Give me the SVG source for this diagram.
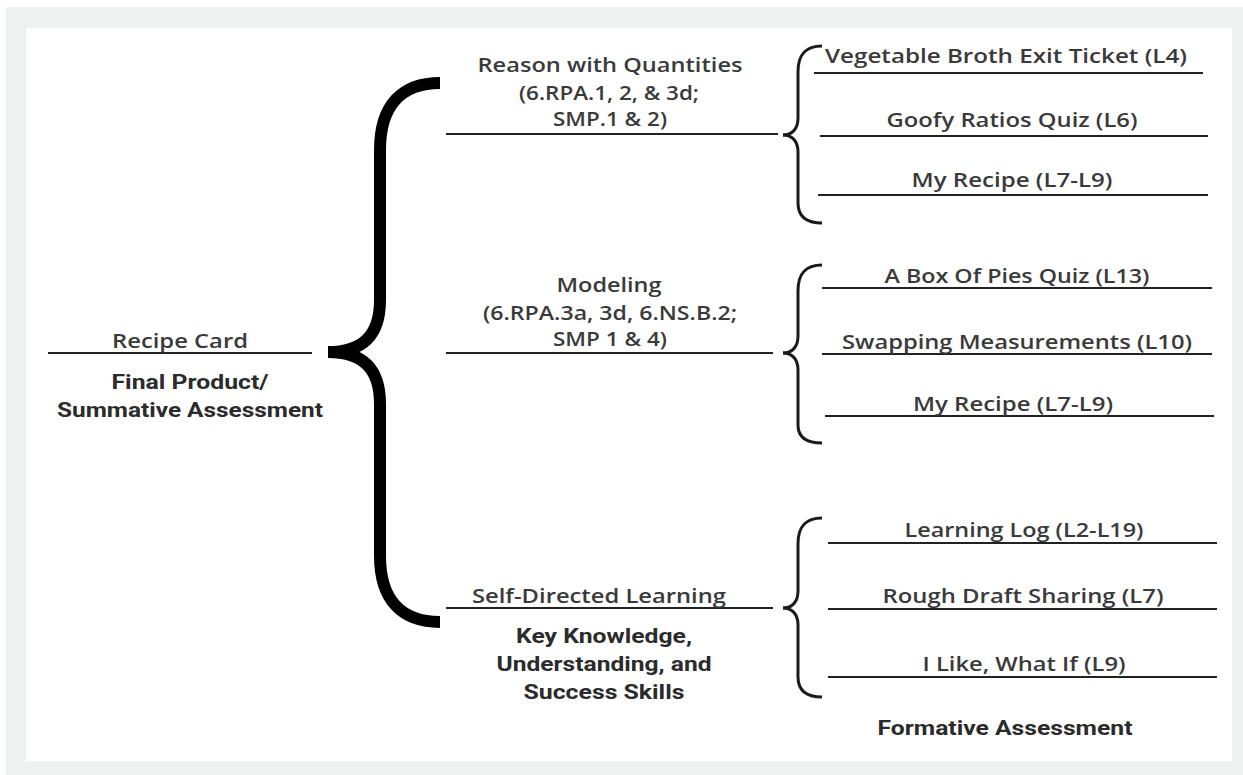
<svg xmlns="http://www.w3.org/2000/svg" width="1243" height="775" viewBox="0 0 1243 775">
<style>
.bg{fill:#ffffff}
.frame{fill:#eff1f0}
.card{fill:#ffffff}
.t{font-family:"Open Sans","Noto Sans","Liberation Sans",sans-serif;font-size:20px;font-weight:600;fill:#3a3a3a;text-anchor:middle}
.b{font-family:Roboto,"Liberation Sans",sans-serif;font-size:21px;font-weight:700;fill:#2b2b2b;text-anchor:middle}
.ln{stroke:#222222;stroke-width:2;fill:none}
.big{stroke:#000000;stroke-width:12;fill:none;stroke-linecap:butt}
.sm{stroke:#1a1a1a;stroke-width:3;fill:none;stroke-linecap:butt}
</style>
<rect class="bg" x="0" y="0" width="1243" height="775"/>
<rect class="frame" x="6" y="7" width="1237" height="768"/>
<rect class="card" x="26" y="28" width="1206" height="733"/>

<g id="connectors">
  <path class="big" d="M440 83 C402 83 380 105 380 150 L380 300 C380 336 362 352 328 352"/>
  <path class="big" d="M328 352 C362 352 380 368 380 404 L380 556 C380 600 402 622 440 622"/>
  <path class="sm" d="M822 46 C806 46 798 54 798 72 L798 118 C798 129 792 135 783 135"/>
  <path class="sm" d="M783 135 C792 135 798 141 798 152 L798 203 C798 216 806 223 822 223"/>
  <path class="sm" d="M822 265 C806 265 798 273 798 291 L798 336 C798 347 792 353 783 353"/>
  <path class="sm" d="M783 353 C792 353 798 359 798 370 L798 425 C798 437 806 443 822 443"/>
  <path class="sm" d="M822 518 C806 518 798 526 798 544 L798 591 C798 602 792 608 783 608"/>
  <path class="sm" d="M783 608 C792 608 798 614 798 625 L798 677 C798 690 806 697 822 697"/>
</g>

<g id="root">
  <line class="ln" x1="48" y1="353" x2="312" y2="353"/>
  <text class="t" x="180" y="348" textLength="136" lengthAdjust="spacingAndGlyphs">Recipe Card</text>
  <text class="b" x="190" y="389" textLength="157" lengthAdjust="spacingAndGlyphs">Final Product/</text>
  <text class="b" x="190" y="417" textLength="266" lengthAdjust="spacingAndGlyphs">Summative Assessment</text>
</g>

<g id="reason">
  <line class="ln" x1="446" y1="134" x2="778" y2="134"/>
  <text class="t" x="610" y="72" textLength="265" lengthAdjust="spacingAndGlyphs">Reason with Quantities</text>
  <text class="t" x="609" y="100" textLength="180" lengthAdjust="spacingAndGlyphs">(6.RPA.1, 2, &amp; 3d;</text>
  <text class="t" x="610" y="126" textLength="114" lengthAdjust="spacingAndGlyphs">SMP.1 &amp; 2)</text>
</g>

<g id="modeling">
  <line class="ln" x1="446" y1="353" x2="773" y2="353"/>
  <text class="t" x="609" y="292" textLength="105" lengthAdjust="spacingAndGlyphs">Modeling</text>
  <text class="t" x="610" y="320" textLength="254" lengthAdjust="spacingAndGlyphs">(6.RPA.3a, 3d, 6.NS.B.2;</text>
  <text class="t" x="610" y="346" textLength="114" lengthAdjust="spacingAndGlyphs">SMP 1 &amp; 4)</text>
</g>

<g id="selfdirected">
  <line class="ln" x1="446" y1="608" x2="773" y2="608"/>
  <text class="t" x="599" y="603" textLength="254" lengthAdjust="spacingAndGlyphs">Self-Directed Learning</text>
  <text class="b" x="604" y="643" textLength="176" lengthAdjust="spacingAndGlyphs">Key Knowledge,</text>
  <text class="b" x="604" y="671" textLength="215" lengthAdjust="spacingAndGlyphs">Understanding, and</text>
  <text class="b" x="604" y="699" textLength="161" lengthAdjust="spacingAndGlyphs">Success Skills</text>
</g>

<g id="item-veg">
  <line class="ln" x1="814" y1="73" x2="1203" y2="73"/>
  <text class="t" x="1006" y="63" textLength="362" lengthAdjust="spacingAndGlyphs">Vegetable Broth Exit Ticket (L4)</text>
</g>
<g id="item-goofy">
  <line class="ln" x1="820" y1="136" x2="1208" y2="136"/>
  <text class="t" x="1012" y="127" textLength="251" lengthAdjust="spacingAndGlyphs">Goofy Ratios Quiz (L6)</text>
</g>
<g id="item-recipe1">
  <line class="ln" x1="818" y1="195" x2="1208" y2="195"/>
  <text class="t" x="1012" y="187" textLength="201" lengthAdjust="spacingAndGlyphs">My Recipe (L7-L9)</text>
</g>
<g id="item-box">
  <line class="ln" x1="822" y1="288" x2="1212" y2="288"/>
  <text class="t" x="1017" y="283" textLength="265" lengthAdjust="spacingAndGlyphs">A Box Of Pies Quiz (L13)</text>
</g>
<g id="item-swap">
  <line class="ln" x1="822" y1="354" x2="1212" y2="354"/>
  <text class="t" x="1017" y="349" textLength="350" lengthAdjust="spacingAndGlyphs">Swapping Measurements (L10)</text>
</g>
<g id="item-recipe2">
  <line class="ln" x1="825" y1="416" x2="1214" y2="416"/>
  <text class="t" x="1013" y="411" textLength="200" lengthAdjust="spacingAndGlyphs">My Recipe (L7-L9)</text>
</g>
<g id="item-log">
  <line class="ln" x1="828" y1="543" x2="1217" y2="543"/>
  <text class="t" x="1024" y="537" textLength="239" lengthAdjust="spacingAndGlyphs">Learning Log (L2-L19)</text>
</g>
<g id="item-draft">
  <line class="ln" x1="828" y1="609" x2="1217" y2="609"/>
  <text class="t" x="1023" y="603" textLength="281" lengthAdjust="spacingAndGlyphs">Rough Draft Sharing (L7)</text>
</g>
<g id="item-like">
  <line class="ln" x1="828" y1="677" x2="1217" y2="677"/>
  <text class="t" x="1024" y="671" textLength="203" lengthAdjust="spacingAndGlyphs">I Like, What If (L9)</text>
</g>
<g id="formative">
  <text class="b" x="1005" y="735" textLength="255" lengthAdjust="spacingAndGlyphs">Formative Assessment</text>
</g>
</svg>
